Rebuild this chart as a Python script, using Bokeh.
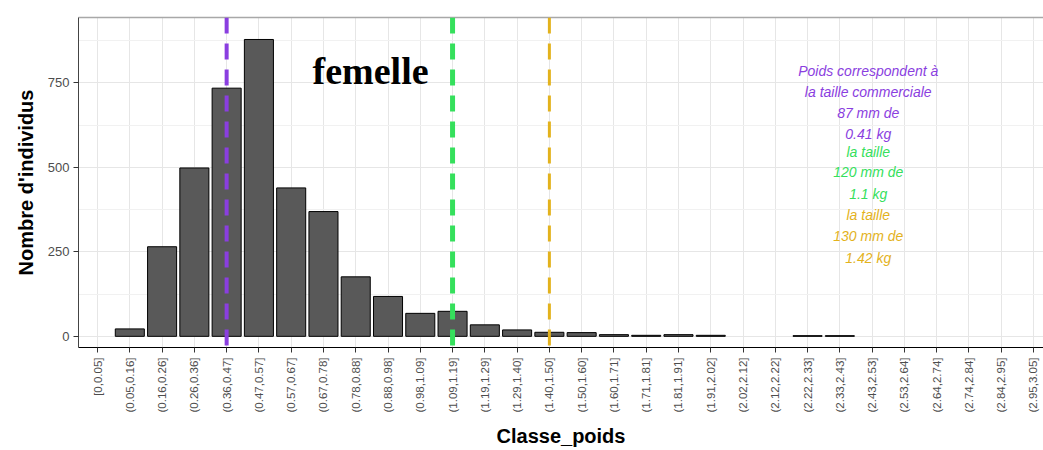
import numpy as np
from bokeh.plotting import figure
from bokeh.models import Range1d, FixedTicker, Span, Label, LinearAxis, ColumnDataSource
from bokeh.embed import file_html
from bokeh.resources import INLINE

# Weight classes (kg) and number of females per class
bin_edges = [0, 0.05, 0.16, 0.26, 0.36, 0.47, 0.57, 0.67, 0.78, 0.88, 0.98,
             1.09, 1.19, 1.29, 1.40, 1.50, 1.60, 1.71, 1.81, 1.91, 2.02,
             2.12, 2.22, 2.33, 2.43, 2.53, 2.64, 2.74, 2.84, 2.95, 3.05]
classes = ["[0,0.05]", "(0.05,0.16]", "(0.16,0.26]", "(0.26,0.36]", "(0.36,0.47]",
           "(0.47,0.57]", "(0.57,0.67]", "(0.67,0.78]", "(0.78,0.88]", "(0.88,0.98]",
           "(0.98,1.09]", "(1.09,1.19]", "(1.19,1.29]", "(1.29,1.40]", "(1.40,1.50]",
           "(1.50,1.60]", "(1.60,1.71]", "(1.71,1.81]", "(1.81,1.91]", "(1.91,2.02]",
           "(2.02,2.12]", "(2.12,2.22]", "(2.22,2.33]", "(2.33,2.43]", "(2.43,2.53]",
           "(2.53,2.64]", "(2.64,2.74]", "(2.74,2.84]", "(2.84,2.95]", "(2.95,3.05]"]
counts = [0, 22, 265, 498, 734, 878, 439, 369, 176, 118,
          68, 74, 34, 19, 12, 11, 5, 3, 5, 3,
          0, 0, 2, 2, 0, 0, 0, 0, 0, 0]

# Commercial size thresholds: length (mm) -> weight (kg)
seuil_mm = [87, 120, 130]
seuil_kg = [0.41, 1.1, 1.42]
seuil_colors = ["#8a3ee0", "#35e05c", "#e3b21c"]
seuil_widths = [4, 5, 3]

y_ticks = [0, 250, 500, 750]
y_minor = [125, 375, 625, 875]

pos = list(range(len(classes)))
keep = [i for i, c in enumerate(counts) if c > 0]
src = ColumnDataSource(dict(x=[pos[i] for i in keep], top=[counts[i] for i in keep]))

FONT = "Liberation Sans"

p = figure(width=1043, height=450,
           x_range=Range1d(-0.59, 29.31), y_range=Range1d(-33, 943),
           output_backend="svg", toolbar_location=None,
           min_border_left=78, min_border_right=0, min_border_top=17, min_border_bottom=103)
p.outline_line_color = None
p.background_fill_color = "white"

p.vbar(x="x", top="top", bottom=0, width=0.9, source=src,
       fill_color="#595959", line_color="black", line_width=1)

# threshold lines at the class containing each weight
for kg, col, lw in zip(seuil_kg, seuil_colors, seuil_widths):
    idx = int(np.searchsorted(bin_edges, kg, side="left")) - 1
    p.add_layout(Span(location=pos[idx], dimension="height", line_color=col,
                      line_width=lw, line_dash="16 10"))

# axes
p.xaxis.ticker = FixedTicker(ticks=pos)
p.xaxis.major_label_overrides = {i: c for i, c in zip(pos, classes)}
p.xaxis.major_label_orientation = np.pi / 2
p.xaxis.major_label_text_font = FONT
p.xaxis.major_label_text_font_size = "11.5px"
p.xaxis.major_label_text_color = "#4d4d4d"
p.xaxis.major_label_standoff = 5
p.xaxis.axis_label = "Classe_poids"
p.xaxis.axis_label_standoff = 10

p.yaxis.ticker = FixedTicker(ticks=y_ticks, minor_ticks=y_minor)
p.yaxis.major_label_text_font = FONT
p.yaxis.major_label_text_font_size = "13px"
p.yaxis.major_label_text_color = "#4d4d4d"
p.yaxis.major_label_standoff = 4
p.yaxis.axis_label = "Nombre d'individus"
p.yaxis.axis_label_standoff = 8

for ax in (p.xaxis[0], p.yaxis[0]):
    ax.axis_label_text_font = FONT
    ax.axis_label_text_font_style = "bold"
    ax.axis_label_text_font_size = "20px"
    ax.axis_label_text_color = "black"
    ax.major_tick_out = 5
    ax.major_tick_in = 0
    ax.minor_tick_line_color = None
    ax.major_tick_line_color = "#333333"
p.xaxis.axis_line_color = "black"
p.yaxis.axis_line_color = "#444444"

top_axis = LinearAxis(ticker=FixedTicker(ticks=[]), axis_line_color="#a8a8a8",
                      axis_line_width=1.5, major_label_text_font_size="0px")
p.add_layout(top_axis, "above")

p.xgrid.ticker = FixedTicker(ticks=pos)
p.xgrid.grid_line_color = "#e6e6e6"
p.ygrid.grid_line_color = "#e6e6e6"
p.ygrid.minor_grid_line_color = "#f1f1f1"

p.add_layout(Label(x=8.46, y=786, text="femelle", text_font="Liberation Serif",
                   text_font_style="bold", text_font_size="38px", text_color="black",
                   text_align="center", text_baseline="middle"))

notes = [
    ("Poids correspondent à", 0), ("la taille commerciale", 0),
    (f"{seuil_mm[0]} mm de", 0), (f"{seuil_kg[0]} kg", 0),
    ("la taille", 1), (f"{seuil_mm[1]} mm de", 1), (f"{seuil_kg[1]} kg", 1),
    ("la taille", 2), (f"{seuil_mm[2]} mm de", 2), (f"{seuil_kg[2]} kg", 2),
]
note_y = [786, 724, 662, 597, 544, 485, 420, 358, 296, 231]
for (txt, k), yy in zip(notes, note_y):
    p.add_layout(Label(x=23.88, y=yy, text=txt, text_font=FONT,
                       text_font_style="italic", text_font_size="14px",
                       text_color=seuil_colors[k], text_align="center",
                       text_baseline="middle"))

open("out.html", "w").write(file_html(p, INLINE))
